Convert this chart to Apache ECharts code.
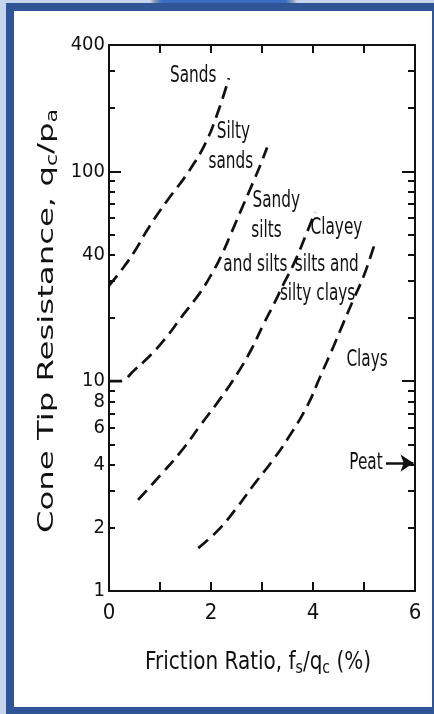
<!DOCTYPE html>
<html>
<head>
<meta charset="utf-8">
<script src="https://cdn.jsdelivr.net/npm/echarts@6/dist/echarts.min.js"></script>
<style>
html,body{margin:0;padding:0;width:434px;height:714px;overflow:hidden;background:#c7d5ec;}
#frame{position:absolute;left:6px;top:3px;width:434px;height:712px;box-sizing:border-box;border:8px solid #2f5597;background:#fff;}
#tab{position:absolute;left:150px;top:0;width:147px;height:3px;background:linear-gradient(90deg,#c7d5ec 0,#8a9bb8 3%,#3a6cc4 8%,#3a6cc4 92%,#8a9bb8 97%,#c7d5ec 100%);}
#chart{position:absolute;left:0;top:0;width:434px;height:714px;}
</style>
</head>
<body>
<div id="frame"></div>
<div id="tab"></div>
<div id="chart"></div>
<script>
// ---- axis values ----
const xLabelValues = [0, 2, 4, 6];
const yLabelValues = [1, 2, 4, 6, 8, 10, 40, 100, 400];
const yMinorTickValues = [2, 3, 4, 5, 6, 7, 8, 9, 20, 30, 40, 50, 60, 70, 80, 90, 200, 300];
const yMajorTickValues = [10, 100];

// ---- boundary curves [friction ratio %, qc/pa] ----
const sandsBoundary = [[0, 28.5], [0.25, 34], [0.5, 41.5], [0.79, 54.5], [1.15, 73], [1.54, 98], [1.89, 136], [2.15, 196], [2.35, 278]];
const siltySandsBoundary = [[0, 10], [0.2, 10], [0.5, 11.3], [1.0, 14.9], [1.46, 20.8], [1.79, 26.5], [2.0, 32], [2.2, 39.5], [2.4, 51], [2.62, 68], [2.82, 88], [2.96, 106], [3.1, 130]];
const sandySiltsBoundary = [[0.57, 2.72], [1.0, 3.55], [1.42, 4.65], [1.8, 6.2], [2.19, 8.3], [2.52, 10.9], [2.78, 14.0], [3.04, 18.9], [3.24, 23.5], [3.43, 29.3], [3.63, 36.5], [3.85, 49], [4.04, 64]];
const clayeySiltsBoundary = [[1.75, 1.6], [2.14, 1.95], [2.47, 2.43], [2.86, 3.26], [3.19, 4.13], [3.5, 5.3], [3.88, 7.56], [4.14, 10.5], [4.4, 14.6], [4.59, 18.8], [4.79, 24.4], [4.99, 31.5], [5.15, 40.7], [5.22, 46]];

// ---- zone labels [x, y, text] ----
const zoneLabels = [
  [1.65, 285, 'Sands'],
  [2.44, 154, 'Silty'],
  [2.39, 110, 'sands'],
  [3.28, 72, 'Sandy'],
  [3.09, 52, 'silts'],
  [2.87, 35.8, 'and silts'],
  [4.46, 53.7, 'Clayey'],
  [4.27, 35.8, 'silts and'],
  [4.09, 26, 'silty clays'],
  [5.06, 12.6, 'Clays'],
  [5.04, 4.07, 'Peat']
];
const peatArrow = [[5.43, 4.07], [5.97, 4.07]];

const INK = '#111111';
const COND = "'DejaVu Sans Condensed','DejaVu Sans',sans-serif";

function curve(data) {
  return {
    type: 'line', data: data, xAxisIndex: 0, yAxisIndex: 0,
    showSymbol: false, symbol: 'none', smooth: 0.45, silent: true, clip: false,
    lineStyle: { color: INK, width: 2.7, type: [13, 7], cap: 'butt' }
  };
}

function yAxis(position, tickValues, tickLen, showLine, showLabels) {
  return {
    type: 'log', logBase: 10, min: 1, max: 400, position: position,
    axisLine: { show: showLine, onZero: false, lineStyle: { color: INK, width: 2 } },
    axisTick: { show: true, inside: true, length: tickLen, customValues: tickValues, lineStyle: { color: INK, width: 2 } },
    axisLabel: showLabels ? { show: true, customValues: yLabelValues, margin: 4, color: INK, fontSize: 20, fontFamily: COND } : { show: false },
    splitLine: { show: false }, minorTick: { show: false }
  };
}

const chart = echarts.init(document.getElementById('chart'), null, { renderer: 'canvas' });
chart.setOption({
  animation: false,
  backgroundColor: 'transparent',
  grid: { left: 109, right: 19, top: 45, bottom: 123, containLabel: false, outerBoundsMode: 'none' },
  xAxis: [
    {
      type: 'value', min: 0, max: 6, interval: 1, position: 'bottom',
      axisLine: { show: true, onZero: false, lineStyle: { color: INK, width: 2 } },
      axisTick: { show: true, inside: true, length: 9, lineStyle: { color: INK, width: 2 } },
      axisLabel: { show: true, margin: 11, color: INK, fontSize: 22, fontFamily: COND,
        formatter: function (v) { return xLabelValues.indexOf(v) >= 0 ? String(v) : ''; } },
      splitLine: { show: false }
    },
    {
      type: 'value', min: 0, max: 6, interval: 1, position: 'top',
      axisLine: { show: true, onZero: false, lineStyle: { color: INK, width: 2 } },
      axisTick: { show: true, inside: true, length: 8, lineStyle: { color: INK, width: 2 } },
      axisLabel: { show: false }, splitLine: { show: false }
    }
  ],
  yAxis: [
    yAxis('left', yMinorTickValues, 6, true, true),
    yAxis('left', yMajorTickValues, 12, false, false),
    yAxis('right', yMinorTickValues, 7, true, false),
    yAxis('right', yMajorTickValues, 13, false, false)
  ],
  series: [
    curve(sandsBoundary),
    curve(siltySandsBoundary),
    curve(sandySiltsBoundary),
    curve(clayeySiltsBoundary),
    {
      type: 'custom', coordinateSystem: 'cartesian2d', xAxisIndex: 0, yAxisIndex: 0,
      silent: true, clip: false,
      data: zoneLabels.map(function (d) { return [d[0], d[1]]; }),
      encode: { x: 0, y: 1 },
      renderItem: function (params, api) {
        const pt = api.coord([api.value(0), api.value(1)]);
        return {
          type: 'text', x: pt[0], y: pt[1], scaleY: 1.3,
          style: {
            text: zoneLabels[params.dataIndex][2], fill: INK,
            fontSize: 17, fontFamily: COND, align: 'center', verticalAlign: 'middle'
          }
        };
      },
      markLine: {
        silent: true, symbol: ['none', 'arrow'], symbolSize: 13,
        label: { show: false },
        lineStyle: { color: INK, width: 2.5, type: 'solid' },
        data: [[{ coord: peatArrow[0] }, { coord: peatArrow[1] }]]
      }
    }
  ],
  graphic: [
    {
      type: 'text', x: 47, y: 321, rotation: Math.PI / 2, scaleX: 1.47, silent: true,
      style: {
        text: 'Cone Tip Resistance, q{s|c}/p{s|a}',
        fontSize: 22, fontFamily: 'DejaVu Sans', fill: INK,
        align: 'center', verticalAlign: 'middle',
        rich: { s: { fontSize: 15, fontFamily: 'DejaVu Sans', fill: INK, padding: [12, 0, 0, 0] } }
      }
    },
    {
      type: 'text', x: 258, y: 662, scaleY: 1.25, silent: true,
      style: {
        text: 'Friction Ratio, f{s|s}/q{s|c} (%)',
        fontSize: 20, fontFamily: 'DejaVu Sans', fill: INK,
        align: 'center', verticalAlign: 'middle',
        rich: { s: { fontSize: 14, fontFamily: 'DejaVu Sans', fill: INK, padding: [11, 0, 0, 0] } }
      }
    }
  ]
});
</script>
</body>
</html>
